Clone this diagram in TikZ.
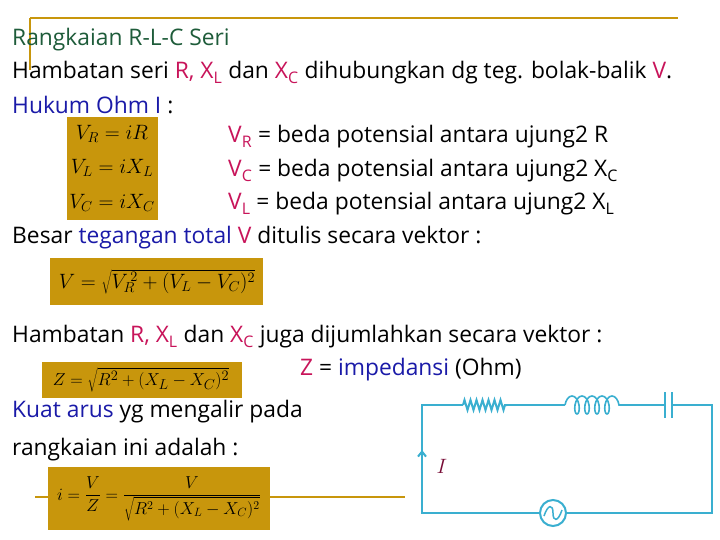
\documentclass[tikz,border=0pt]{standalone}
\usepackage{fontspec}
\setmainfont{Open Sans}
\usetikzlibrary{decorations.pathmorphing,arrows.meta}
\definecolor{gold}{HTML}{C8960C}
\definecolor{mag}{HTML}{C8145A}
\definecolor{dblue}{HTML}{1A1AA8}
\definecolor{dgreen}{HTML}{1E5C3A}
\definecolor{cy}{HTML}{3AAFD0}
\newcommand{\mg}[1]{\textcolor{mag}{#1}}
\newcommand{\bl}[1]{\textcolor{dblue}{#1}}
\begin{document}
\begin{tikzpicture}[x=1pt,y=-1pt,
  txt/.style={anchor=west,inner sep=0pt,font=\fontsize{22.8}{25}\selectfont},
  fm/.style={anchor=center,inner sep=0pt,font=\fontsize{20}{22}\selectfont},
  wire/.style={cy,line width=2pt}]
\useasboundingbox (0,0) rectangle (720,540);
\fill[white] (0,0) rectangle (720,540);
\draw[gold,line width=2.5pt] (30,18) -- (678,18);
\draw[gold,line width=2.5pt] (30,18) -- (30,70);
\draw[gold,line width=2.5pt] (35,497) -- (405,497);
\node[txt,dgreen] (t1) at (12,40) {Rangkaian R-L-C Seri};
\node[txt] (t2) at (12,73) {Hambatan seri \mg{R, X\textsubscript{L}} dan \mg{X\textsubscript{C}} dihubungkan dg teg. bolak-balik \mg{V}.};
\node[txt] (t3) at (12,105) {\bl{Hukum Ohm I} :};
\fill[gold] (67,117) rectangle (158,220);
\node[fm] (f1) at (112,134) {$V_R=iR$};
\node[fm] (f2) at (112,168) {$V_L=iX_L$};
\node[fm] (f3) at (112,203) {$V_C=iX_C$};
\node[txt] (r1) at (228,137) {\mg{V\textsubscript{R}} = beda potensial antara ujung2 R};
\node[txt] (r2) at (228,171) {\mg{V\textsubscript{C}} = beda potensial antara ujung2 X\textsubscript{C}};
\node[txt] (r3) at (228,204) {\mg{V\textsubscript{L}} = beda potensial antara ujung2 X\textsubscript{L}};
\node[txt] (t4) at (12,238) {Besar \bl{tegangan total} \mg{V} ditulis secara vektor :};
\fill[gold] (50,258) rectangle (263,305);
\node[fm,font=\fontsize{20.5}{22}\selectfont] (f4) at (157,282) {$V=\sqrt{V_R^{\,2}+(V_L-V_C)^2}$};
\node[txt] (t5) at (12,337) {Hambatan \mg{R, X\textsubscript{L}} dan \mg{X\textsubscript{C}} juga dijumlahkan secara vektor :};
\fill[gold] (42,362) rectangle (242,398);
\node[fm,font=\fontsize{19}{21}\selectfont] (f5) at (141,380) {$Z=\sqrt{R^2+(X_L-X_C)^2}$};
\node[txt] (t6) at (300,370) {\mg{Z} = \bl{impedansi} (Ohm)};
\node[txt] (t7) at (12,412) {\bl{Kuat arus} yg mengalir pada};
\node[txt] (t8) at (12,450) {rangkaian ini adalah :};
\fill[gold] (48,467) rectangle (270,530);
\node[fm,font=\fontsize{18}{20}\selectfont] (f6) at (159,499) {$\displaystyle i=\frac{V}{Z}=\frac{V}{\sqrt{R^2+(X_L-X_C)^2}}$};
% circuit
\draw[wire] (422,452) -- (422,405) -- (463,405);
\draw[wire,decorate,decoration={zigzag,segment length=6pt,amplitude=5pt}] (463,405) -- (507,405);
\draw[wire] (507,405) -- (565,405);
\draw[wire,line width=1.6pt,decorate,decoration={coil,aspect=0.5,segment length=10pt,amplitude=9pt}] (565,405) -- (625,405);
\draw[wire] (625,405) -- (665,405);
\draw[wire] (665,392) -- (665,418);
\draw[wire] (672,392) -- (672,418);
\draw[wire] (672,405) -- (712,405) -- (712,513) -- (565,513);
\node[draw=cy,line width=2pt,circle,minimum size=26pt,inner sep=0pt] (src) at (553,513) {};
\draw[wire] (src.west) -- (422,513) -- (422,452);
\draw[cy,line width=1.5pt] (544,516) .. controls (548,504) and (553,504) .. (553,513) .. controls (553,522) and (558,522) .. (562,510);
\draw[wire,-{Straight Barb[length=5pt,width=8pt]}] (422,475) -- (422,450);
\node[text=mag!60!black,font=\fontsize{20}{22}\selectfont] (I) at (442,466) {$I$};
\end{tikzpicture}
\end{document}
